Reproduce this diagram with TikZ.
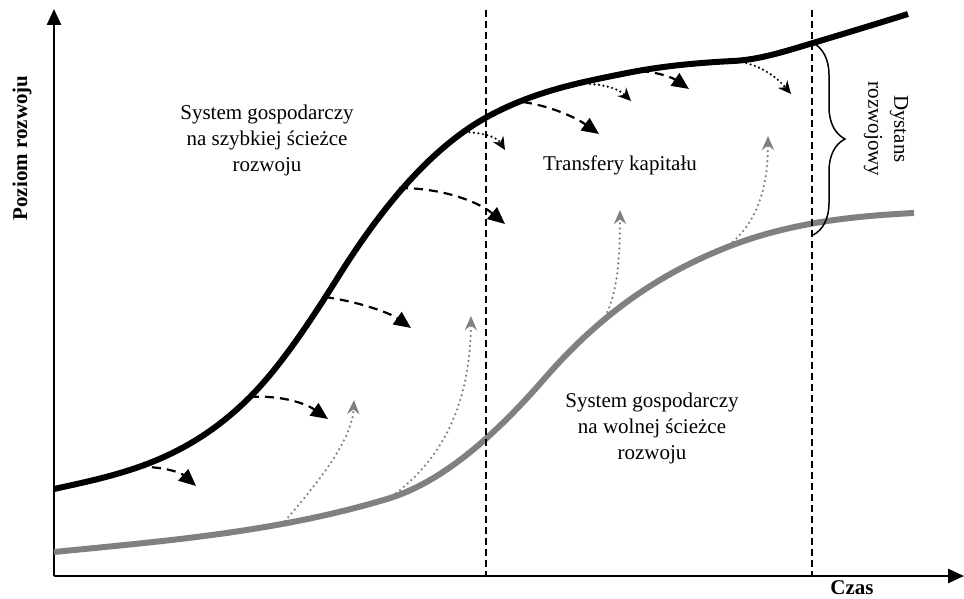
\documentclass[tikz,border=0pt]{standalone}
\usepackage{fontspec}
\setmainfont{Liberation Serif}
\usetikzlibrary{arrows.meta,decorations.pathreplacing}
\definecolor{curvegray}{RGB}{128,128,128}
\definecolor{arrgray}{RGB}{128,128,128}
\begin{document}
\begin{tikzpicture}[x=1pt,y=-1pt,
  txt/.style={font=\fontsize{21}{26}\selectfont, align=center, inner sep=0pt},
  boldtxt/.style={font=\fontsize{21}{26}\selectfont\bfseries, inner sep=0pt},
  axisline/.style={line width=2.5pt, -{Triangle[length=16pt,width=14pt]}},
  fastcurve/.style={line width=6pt, black},
  slowcurve/.style={line width=6pt, curvegray},
  guide/.style={line width=1.5pt, dash pattern=on 7pt off 4pt},
  fastarr/.style={line width=2.2pt, dash pattern=on 9pt off 6pt, -{Triangle[length=17pt,width=15pt]}},
  fastdot/.style={line width=2.4pt, dash pattern=on 0pt off 4.5pt, line cap=round, -{Stealth[length=13pt,width=12pt]}},
  slowdot/.style={line width=2.5pt, dash pattern=on 0pt off 5pt, line cap=round, arrgray, -{Stealth[length=14pt,width=12pt]}},
  bracestyle/.style={line width=1.5pt, decorate, decoration={brace, amplitude=32pt}},
]
\useasboundingbox (0,0) rectangle (964,599);

% axes
\coordinate (O) at (54,576);
\coordinate (ytop) at (54,9);
\coordinate (xend) at (964,576);
\draw[axisline] (O) -- (ytop);
\draw[axisline] (O) -- (xend);

% fast development path (black)
\coordinate (fa) at (54,489);
\coordinate (fb) at (250,397);
\coordinate (fc) at (340,274);
\coordinate (fd) at (487,117);
\coordinate (fe) at (627,73);
\coordinate (ff) at (733,61);
\coordinate (fg) at (813,43);
\coordinate (fh) at (908,14);
\draw[fastcurve, line cap=butt] (fa)
  .. controls (119,474.7) and (185,462) .. (fb)
  .. controls (280,367) and (310,322) .. (fc)
  .. controls (389,196) and (438,144) .. (fd)
  .. controls (534,91.2) and (580,82.4) .. (fe)
  .. controls (662,66) and (698,62.75) .. (ff)
  .. controls (760,59.7) and (786,51) .. (fg)
  .. controls (845,33.4) and (876,24) .. (fh);

% slow development path (gray)
\coordinate (sa) at (54,552);
\coordinate (sb) at (387,499);
\coordinate (sc) at (545,378);
\coordinate (sd) at (725,248);
\coordinate (se) at (914,213);
\draw[slowcurve] (sa)
  .. controls (165,540.9) and (276,532.3) .. (sb)
  .. controls (440,483.1) and (492,439) .. (sc)
  .. controls (605,309) and (665,272) .. (sd)
  .. controls (788,222.8) and (851,216.2) .. (se);

% guides
\coordinate (g1t) at (486,10);
\coordinate (g1b) at (486,576);
\coordinate (g2t) at (812,10);
\coordinate (g2b) at (812,576);
\draw[guide] (g1t) -- (g1b);
\draw[guide] (g2t) -- (g2b);

% dashed arrows from the fast curve
\coordinate (f1s) at (137,467); \coordinate (f1e) at (196,486);
\coordinate (f2s) at (250,397); \coordinate (f2e) at (328,419);
\coordinate (f3s) at (325,297); \coordinate (f3e) at (411,328);
\coordinate (f4s) at (399,188); \coordinate (f4e) at (505,224);
\coordinate (f5s) at (523,102); \coordinate (f5e) at (599,134);
\coordinate (f6s) at (640,71);  \coordinate (f6e) at (689,89);
\draw[fastarr] (f1s) .. controls (160,466) and (180,472) .. (f1e);
\draw[fastarr] (f2s) .. controls (280,395) and (305,403) .. (f2e);
\draw[fastarr] (f3s) .. controls (360,302) and (390,313) .. (f3e);
\draw[fastarr] (f4s) .. controls (445,188) and (480,203) .. (f4e);
\draw[fastarr] (f5s) .. controls (550,106) and (575,117) .. (f5e);
\draw[fastarr] (f6s) .. controls (658,72) and (673,78) .. (f6e);

% dotted arrows from the fast curve
\coordinate (d1s) at (465,132); \coordinate (d1e) at (505,150);
\coordinate (d2s) at (590,84);  \coordinate (d2e) at (631,101);
\coordinate (d3s) at (733,61);  \coordinate (d3e) at (791,94);
\draw[fastdot] (d1s) .. controls (485,133) and (497,137) .. (d1e);
\draw[fastdot] (d2s) .. controls (608,85) and (620,90) .. (d2e);
\draw[fastdot] (d3s) .. controls (755,62) and (775,75) .. (d3e);

% dotted arrows from the slow curve
\coordinate (s1s) at (285,521); \coordinate (s1e) at (354,400);
\coordinate (s2s) at (388,499); \coordinate (s2e) at (471,316);
\coordinate (s3s) at (603,321); \coordinate (s3e) at (620,210);
\coordinate (s4s) at (725,248); \coordinate (s4e) at (768,136);
\draw[slowdot] (s1s) .. controls (320,480) and (352,440) .. (s1e);
\draw[slowdot] (s2s) .. controls (430,470) and (470,420) .. (s2e);
\draw[slowdot] (s3s) .. controls (615,300) and (620,270) .. (s3e);
\draw[slowdot] (s4s) .. controls (750,230) and (768,200) .. (s4e);

% brace
\coordinate (btop) at (813,43);
\coordinate (bbot) at (813,235);
\draw[bracestyle] (btop) -- (bbot);

% texts
\node[txt] (fast) at (267,140) {System gospodarczy\\na szybkiej ścieżce\\rozwoju};
\node[txt] (transfer) at (620,165) {Transfery kapitału};
\node[txt] (slow) at (652,428) {System gospodarczy\\na wolnej ścieżce\\rozwoju};
\node[txt, rotate=-90] (dist) at (886,129) {Dystans\\rozwojowy};
\node[boldtxt, rotate=90] (ylab) at (22,148) {Poziom rozwoju};
\node[boldtxt] (xlab) at (852,588) {Czas};
\end{tikzpicture}
\end{document}
